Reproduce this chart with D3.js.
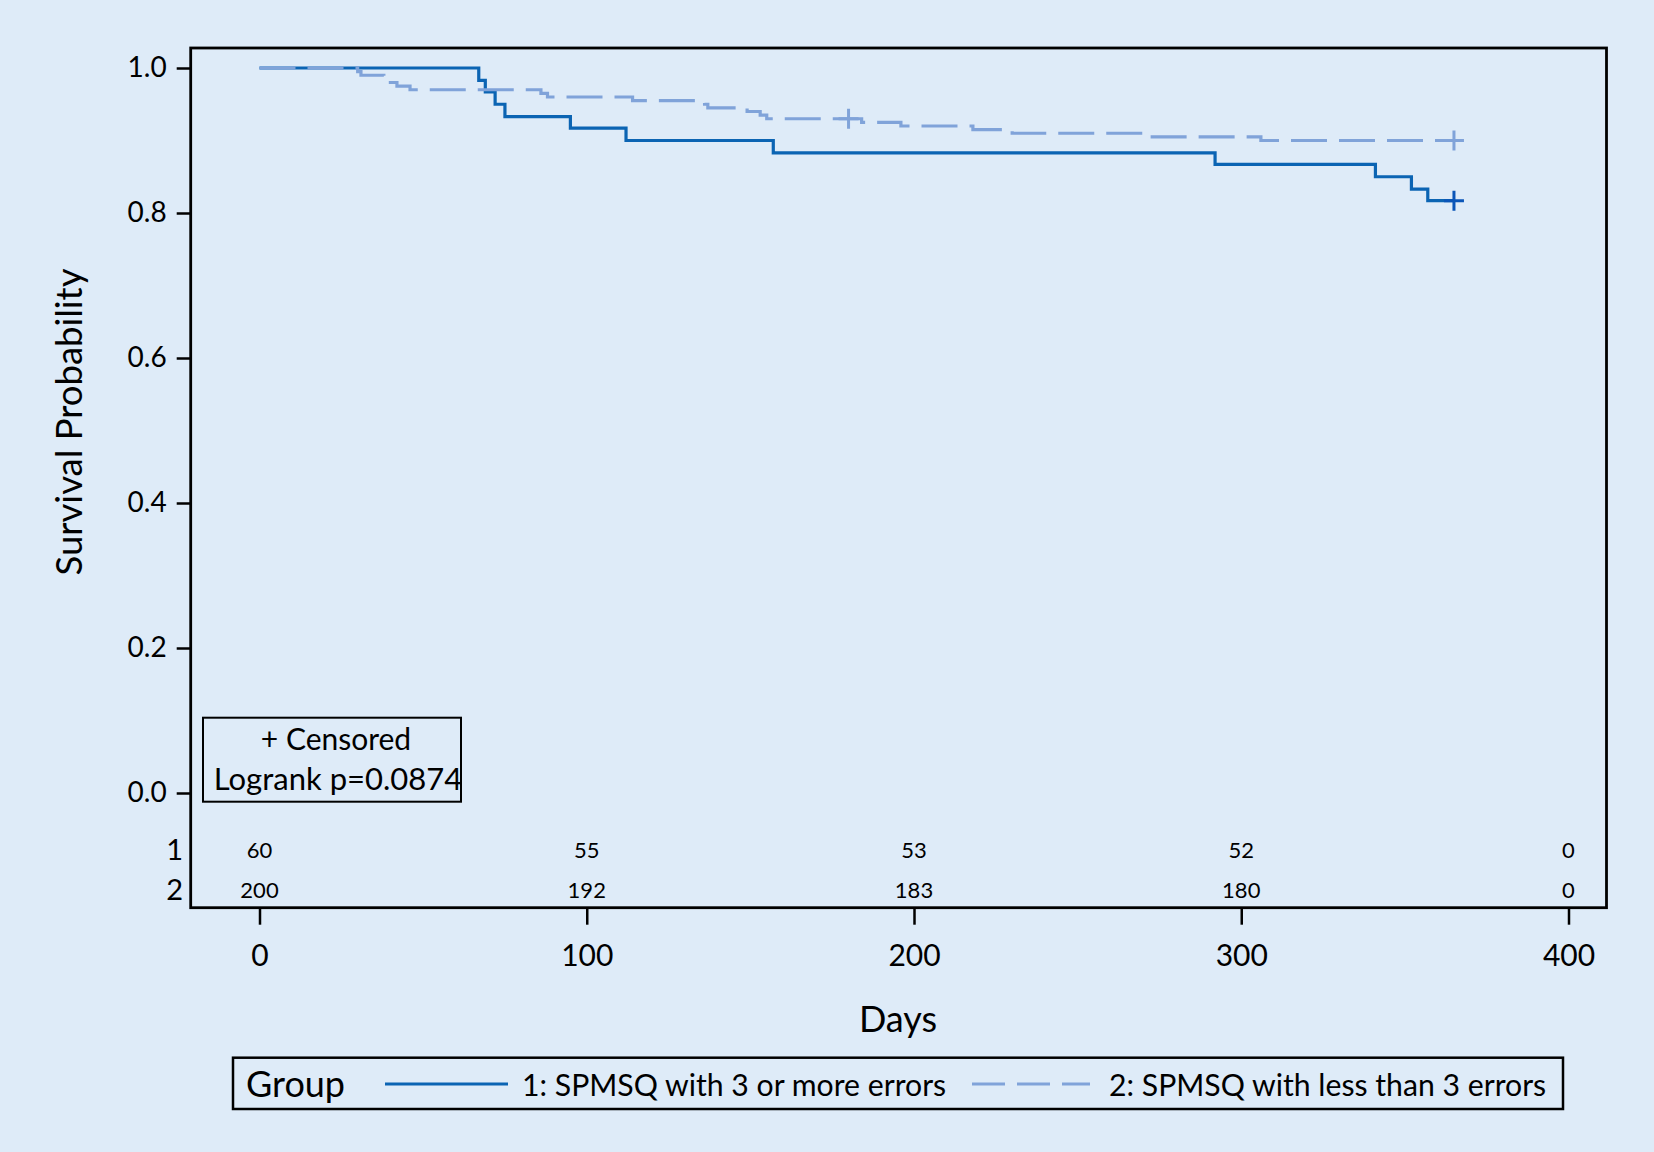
<!DOCTYPE html>
<html>
<head>
<meta charset="utf-8">
<script src="https://cdn.jsdelivr.net/npm/d3@7"></script>
<style>
  body { margin: 0; background: #deebf8; }
  svg { display: block; font-family: Lato, "Open Sans", sans-serif; }
</style>
</head>
<body>
<div id="chart"></div>
<script>
// group 1: SPMSQ with 3 or more errors (step times in days, survival after step)
const g1Days = [0, 67, 69, 72, 75, 95, 112, 157, 292, 341, 352, 357];
const g1Surv = [1, 0.983, 0.967, 0.950, 0.933, 0.917, 0.900, 0.883, 0.867, 0.850, 0.833, 0.817];
const g1Censor = [365];

// group 2: SPMSQ with less than 3 errors
const g2Days = [0, 30, 31, 38, 40, 42, 46, 86, 88, 114, 136, 137, 149, 153, 155, 184, 196, 218, 230, 271, 306];
const g2Surv = [1, 0.995, 0.990, 0.985, 0.980, 0.975, 0.970, 0.965, 0.960, 0.955, 0.950, 0.945, 0.940, 0.935, 0.930,
                0.925, 0.920, 0.915, 0.910, 0.905, 0.900];
const g2Censor = [180, 365];

const endDay = 365;

// numbers at risk
const riskDays = [0, 100, 200, 300, 400];
const risk1 = [60, 55, 53, 52, 0];
const risk2 = [200, 192, 183, 180, 0];

const xTicks = [0, 100, 200, 300, 400];
const yTicks = [0, 0.2, 0.4, 0.6, 0.8, 1.0];

const legendLabels = ['1: SPMSQ with 3 or more errors', '2: SPMSQ with less than 3 errors'];

const colSolid = '#0b64b3';
const colDash = '#80a3d9';

const W = 1654, H = 1152;
const frame = {left: 190.7, top: 48, right: 1606.5, bottom: 907.7};

const svg = d3.select('#chart').append('svg')
    .attr('width', W)
    .attr('height', H);

svg.append('rect').attr('width', W).attr('height', H).attr('fill', '#deebf8');

var x = d3.scaleLinear().domain([0, 400]).range([259.5, 1568.5]);
var y = d3.scaleLinear().domain([0, 1]).range([793, 68]);

// step curve helper
function steps(days, surv, end) {
    let pts = days.map((d, i) => ({t: d, s: surv[i]}));
    pts.push({t: end, s: surv[surv.length - 1]});
    return pts;
}
var line = d3.line()
    .x(d => x(d.t))
    .y(d => y(d.s))
    .curve(d3.curveStepAfter);

var plot = svg.append('g');

plot.append('path')
    .datum(steps(g1Days, g1Surv, endDay))
    .attr('d', line)
    .attr('fill', 'none')
    .attr('stroke', colSolid)
    .attr('stroke-width', 3.2);

plot.append('path')
    .datum(steps(g2Days, g2Surv, endDay))
    .attr('d', line)
    .attr('fill', 'none')
    .attr('stroke', colDash)
    .attr('stroke-width', 3.2)
    .attr('stroke-dasharray', '36,12');

// censor marks
function survAt(days, surv, t) {
    let s = 1;
    days.forEach((d, i) => { if (d <= t) s = surv[i]; });
    return s;
}
function drawCensor(list, days, surv, color) {
    list.forEach(t => {
        const cx = x(t), cy = y(survAt(days, surv, t));
        plot.append('path')
            .attr('d', `M${cx - 10},${cy}H${cx + 10}M${cx},${cy - 10}V${cy + 10}`)
            .attr('stroke', color)
            .attr('stroke-width', 3);
    });
}
drawCensor(g2Censor, g2Days, g2Surv, colDash);
drawCensor(g1Censor, g1Days, g1Surv, '#0a55b8');

// frame
svg.append('rect')
    .attr('x', frame.left).attr('y', frame.top)
    .attr('width', frame.right - frame.left)
    .attr('height', frame.bottom - frame.top)
    .attr('fill', 'none')
    .attr('stroke', '#000')
    .attr('stroke-width', 2.8);

// y axis
var yAxis = svg.append('g')
    .attr('transform', `translate(${frame.left},0)`)
    .call(d3.axisLeft(y).tickValues(yTicks).tickFormat(d3.format('.1f')).tickSize(14).tickPadding(10));
yAxis.select('.domain').remove();
yAxis.selectAll('line').attr('stroke', '#000').attr('stroke-width', 2.5);
yAxis.selectAll('text').attr('font-size', 28).attr('font-family', 'Lato').attr('fill', '#000');

// x axis
var xAxis = svg.append('g')
    .attr('transform', `translate(0,${frame.bottom})`)
    .call(d3.axisBottom(x).tickValues(xTicks).tickSize(17).tickPadding(20));
xAxis.select('.domain').remove();
xAxis.selectAll('line').attr('stroke', '#000').attr('stroke-width', 2.5);
xAxis.selectAll('text').attr('font-size', 30).attr('font-family', 'Lato').attr('fill', '#000');

// axis titles
svg.append('text')
    .attr('transform', 'translate(82,422) rotate(-90)')
    .attr('text-anchor', 'middle')
    .attr('font-size', 36.5)
    .text('Survival Probability');

svg.append('text')
    .attr('x', 898).attr('y', 1032)
    .attr('text-anchor', 'middle')
    .attr('font-size', 36)
    .text('Days');

// at-risk table
[[risk1, 858], [risk2, 898]].forEach(([vals, yy], gi) => {
    svg.append('text')
        .attr('x', 183).attr('y', yy + 2)
        .attr('text-anchor', 'end')
        .attr('font-size', 29)
        .text(gi + 1);
    svg.selectAll(null).data(vals).enter()
        .append('text')
        .attr('x', (d, i) => x(riskDays[i]))
        .attr('y', yy)
        .attr('text-anchor', 'middle')
        .attr('font-size', 22)
        .text(d => d);
});

// censored / logrank box
svg.append('rect')
    .attr('x', 203).attr('y', 717.7)
    .attr('width', 258).attr('height', 84)
    .attr('fill', 'none').attr('stroke', '#000').attr('stroke-width', 2);
svg.append('text').attr('x', 336).attr('y', 750).attr('text-anchor', 'middle')
    .attr('font-size', 30).text('+ Censored');
svg.append('text').attr('x', 338).attr('y', 790).attr('text-anchor', 'middle')
    .attr('font-size', 31).text('Logrank p=0.0874');

// legend
var lg = svg.append('g');
lg.append('rect')
    .attr('x', 233).attr('y', 1057.7)
    .attr('width', 1330).attr('height', 51.3)
    .attr('fill', 'none').attr('stroke', '#000').attr('stroke-width', 2.5);
lg.append('text').attr('x', 246).attr('y', 1097).attr('font-size', 36).text('Group');
lg.append('line').attr('x1', 385).attr('x2', 508).attr('y1', 1084).attr('y2', 1084)
    .attr('stroke', colSolid).attr('stroke-width', 3.2);
lg.append('text').attr('x', 522).attr('y', 1096).attr('font-size', 30.2).text(legendLabels[0]);
lg.append('line').attr('x1', 972).attr('x2', 1090).attr('y1', 1084).attr('y2', 1084)
    .attr('stroke', colDash).attr('stroke-width', 3.2).attr('stroke-dasharray', '33,12');
lg.append('text').attr('x', 1109).attr('y', 1096).attr('font-size', 30.2).text(legendLabels[1]);
</script>
</body>
</html>
